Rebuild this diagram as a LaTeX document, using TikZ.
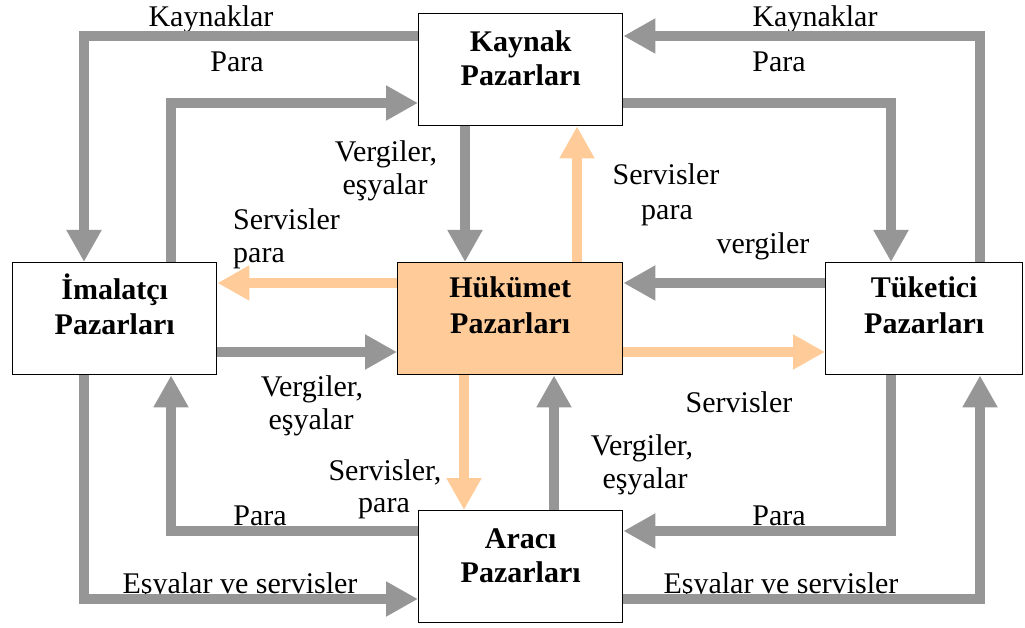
\documentclass[tikz,border=0pt]{standalone}
\usepackage{fontspec}
\IfFontExistsTF{LiberationSerif-Regular.ttf}
  {\setmainfont{LiberationSerif}[Extension=.ttf, UprightFont=*-Regular,
     BoldFont=*-Bold, ItalicFont=*-Italic, BoldItalicFont=*-BoldItalic]}
  {\setmainfont{Liberation Serif}}
\usetikzlibrary{arrows.meta}

\definecolor{flowgray}{RGB}{150,150,150}
\definecolor{flowpeach}{RGB}{255,204,153}

\tikzset{
  market/.style={draw=black, line width=1.4pt, fill=white, rectangle, inner sep=0pt,
                 minimum width=204pt, minimum height=112pt, anchor=north west},
  govmarket/.style={market, fill=flowpeach, minimum width=225pt},
  boxtext/.style={font=\rmfamily\fontsize{30}{34}\selectfont\bfseries, inner sep=0pt, anchor=base},
  flowtext/.style={font=\rmfamily\fontsize{30}{34}\selectfont, inner sep=0pt, anchor=base},
  garrow/.style={draw=flowgray, line width=10pt, -{Triangle[length=32pt,width=33pt]}},
  oarrow/.style={draw=flowpeach, line width=10pt, -{Triangle[length=32pt,width=33pt]}},
}

\begin{document}
\begin{tikzpicture}[x=1pt,y=-1pt]
\useasboundingbox (0,0) rectangle (1025,628);

% the five markets
\node[market]    (kaynak)   at (418,13)  {};
\node[market]    (imalat)   at (12,262)  {};
\node[govmarket] (hukumet)  at (397,262) {};
\node[market, minimum width=197pt] (tuketici) at (825,262) {};
\node[market]    (araci)    at (418,510) {};

\node[boxtext] (kaynak-a)   at ([yshift=-39pt]kaynak.north)   {Kaynak};
\node[boxtext] (kaynak-b)   at ([yshift=-73pt]kaynak.north)   {Pazarları};
\node[boxtext] (imalat-a)   at ([yshift=-38pt]imalat.north)   {İmalatçı};
\node[boxtext] (imalat-b)   at ([yshift=-72pt]imalat.north)   {Pazarları};
\node[boxtext] (hukumet-a)  at ([yshift=-36pt]hukumet.north)  {Hükümet};
\node[boxtext] (hukumet-b)  at ([yshift=-71pt]hukumet.north)  {Pazarları};
\node[boxtext] (tuketici-a) at ([yshift=-36pt]tuketici.north) {Tüketici};
\node[boxtext] (tuketici-b) at ([yshift=-71pt]tuketici.north) {Pazarları};
\node[boxtext] (araci-a)    at ([yshift=-38pt]araci.north)    {Aracı};
\node[boxtext] (araci-b)    at ([yshift=-72pt]araci.north)    {Pazarları};

% flow labels
\node[flowtext] (l1)  at (211,27)  {Kaynaklar};
\node[flowtext] (l2)  at (815,27)  {Kaynaklar};
\node[flowtext] (l3)  at (237,72)  {Para};
\node[flowtext] (l4)  at (779,72)  {Para};
\node[flowtext] (l5)  at (386,162) {Vergiler,};
\node[flowtext] (l6)  at (385,195) {eşyalar};
\node[flowtext, anchor=base west] (l7) at (233,230) {Servisler};
\node[flowtext, anchor=base west] (l8) at (233,263) {para};
\node[flowtext] (l9)  at (666,185) {Servisler};
\node[flowtext] (l10) at (667,220) {para};
\node[flowtext] (l11) at (763,254) {vergiler};
\node[flowtext] (l12) at (312,396) {Vergiler,};
\node[flowtext] (l13) at (311,429) {eşyalar};
\node[flowtext] (l14) at (739,412) {Servisler};
\node[flowtext] (l15) at (642,455) {Vergiler,};
\node[flowtext] (l16) at (645,488) {eşyalar};
\node[flowtext] (l17) at (385,480) {Servisler,};
\node[flowtext] (l18) at (384,512) {para};
\node[flowtext] (l19) at (260,525) {Para};
\node[flowtext] (l20) at (779,525) {Para};
\node[flowtext] (l21) at (240,593) {Eşyalar ve servisler};
\node[flowtext] (l22) at (781,593) {Eşyalar ve servisler};

% lanes of the connectors
\coordinate (xL1) at (84,0);
\coordinate (xL2) at (171,0);
\coordinate (xR1) at (980,0);
\coordinate (xR2) at (891,0);
\coordinate (xKH) at (465,0);
\coordinate (xHK) at (577,0);
\coordinate (xHA) at (464,0);
\coordinate (xAH) at (554,0);
\coordinate (yT1) at (0,36);
\coordinate (yT2) at (0,103);
\coordinate (yHL) at (0,283);
\coordinate (yHR) at (0,352);
\coordinate (yB1) at (0,531);
\coordinate (yB2) at (0,599);

% outer loops
\draw[garrow] (kaynak.west |- yT1) -| (imalat.north -| xL1);
\draw[garrow] (imalat.north -| xL2) |- (kaynak.west |- yT2);
\draw[garrow] (tuketici.north -| xR1) |- (kaynak.east |- yT1);
\draw[garrow] (kaynak.east |- yT2) -| (tuketici.north -| xR2);
\draw[garrow] (araci.west |- yB1) -| (imalat.south -| xL2);
\draw[garrow] (imalat.south -| xL1) |- (araci.west |- yB2);
\draw[garrow] (tuketici.south -| xR2) |- (araci.east |- yB1);
\draw[garrow] (araci.east |- yB2) -| (tuketici.south -| xR1);

% flows to and from the government
\draw[garrow] (kaynak.south -| xKH) -- (hukumet.north -| xKH);
\draw[oarrow] (hukumet.north -| xHK) -- (kaynak.south -| xHK);
\draw[oarrow] (hukumet.west |- yHL) -- (imalat.east |- yHL);
\draw[garrow] (imalat.east |- yHR) -- (hukumet.west |- yHR);
\draw[garrow] (tuketici.west |- yHL) -- (hukumet.east |- yHL);
\draw[oarrow] (hukumet.east |- yHR) -- (tuketici.west |- yHR);
\draw[oarrow] (hukumet.south -| xHA) -- (araci.north -| xHA);
\draw[garrow] (araci.north -| xAH) -- (hukumet.south -| xAH);
\end{tikzpicture}
\end{document}
